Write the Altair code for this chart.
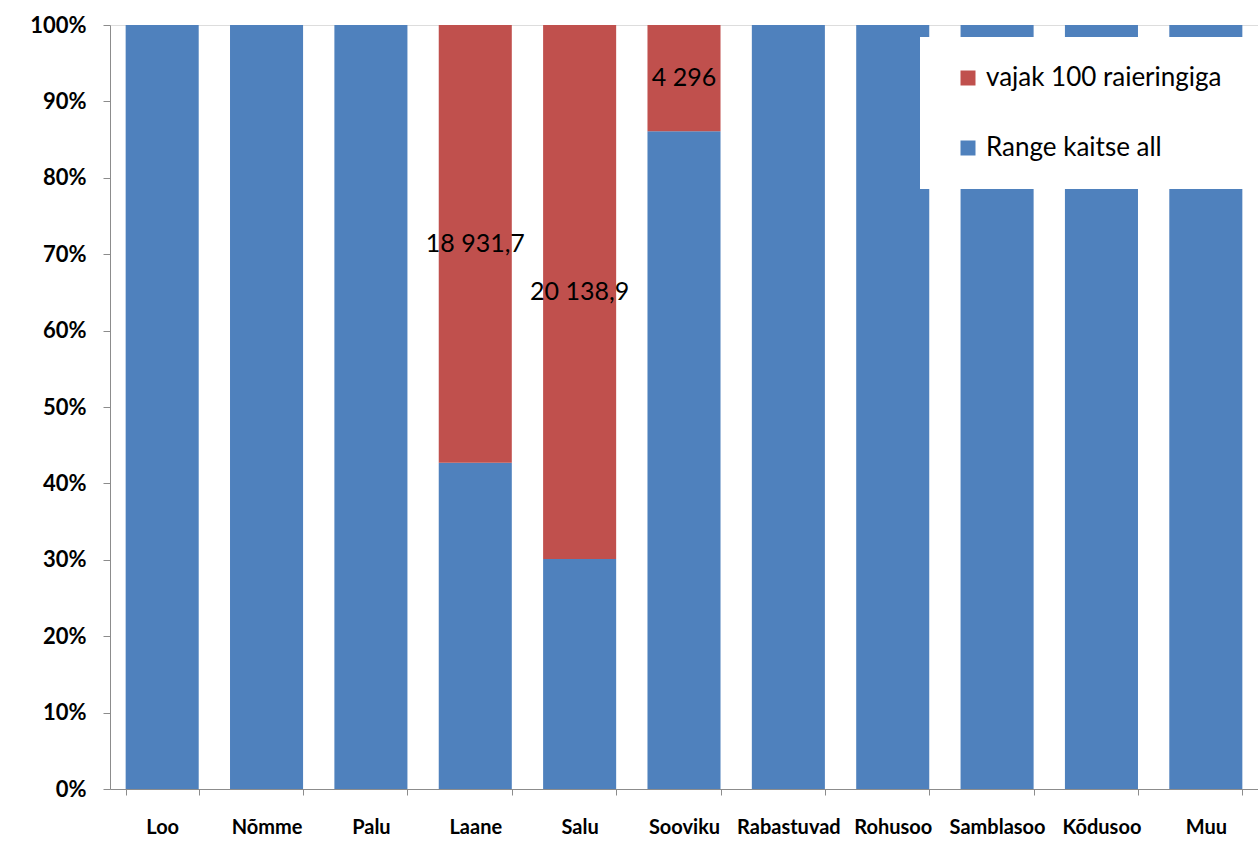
import altair as alt
import pandas as pd

categories = ["Loo", "Nõmme", "Palu", "Laane", "Salu", "Sooviku",
              "Rabastuvad", "Rohusoo", "Samblasoo", "Kõdusoo", "Muu"]
# shares in percent
range_kaitse = [100, 100, 100, 42.7, 30.1, 86.1, 100, 100, 100, 100, 100]
vajak = [0, 0, 0, 57.3, 69.9, 13.9, 0, 0, 0, 0, 0]
vajak_labels = ["", "", "", "18 931,7", "20 138,9", "4 296", "", "", "", "", ""]

S_BLUE = "Range kaitse all"
S_RED = "vajak 100 raieringiga"

rows = []
for c, b, r, lab in zip(categories, range_kaitse, vajak, vajak_labels):
    rows.append({"cat": c, "series": S_BLUE, "val": b / 100, "ord": 0, "label": "", "mid": b / 200})
    rows.append({"cat": c, "series": S_RED, "val": r / 100, "ord": 1, "label": lab, "mid": (b + r / 2) / 100})
df = pd.DataFrame(rows)

FONT = "Lato"
AXIS_GREY = "#8c8c8c"

x_enc = alt.X("cat:N", sort=categories, title=None,
              scale=alt.Scale(paddingInner=0.3, paddingOuter=0.15),
              axis=alt.Axis(labelAngle=0, labelFont=FONT, labelFontWeight="bold",
                            labelFontSize=20, labelColor="black", labelPadding=22,
                            tickBand="extent", tickSize=6, tickColor=AXIS_GREY,
                            domainColor=AXIS_GREY, grid=False))

bars = alt.Chart(df).mark_bar().encode(
    x=x_enc,
    y=alt.Y("val:Q", stack="zero", title=None,
            scale=alt.Scale(domain=[0, 1], nice=False),
            axis=alt.Axis(format=".0%", values=[i / 10 for i in range(11)],
                          labelFont=FONT, labelFontWeight="bold", labelFontSize=22,
                          labelColor="black", labelPadding=17, tickSize=7,
                          tickColor=AXIS_GREY, domainColor=AXIS_GREY, grid=False)),
    color=alt.Color("series:N", title=None,
                    scale=alt.Scale(domain=[S_RED, S_BLUE], range=["#C0504D", "#4F81BD"]),
                    legend=alt.Legend(orient="none", legendX=810, legendY=12,
                                      fillColor="white", padding=28,
                                      symbolType="square", symbolSize=225,
                                      symbolStrokeWidth=0, symbolOffset=7,
                                      labelFont=FONT, labelFontSize=26, labelColor="black",
                                      rowPadding=44, labelLimit=400,
                                      labelOffset=5)),
    order=alt.Order("ord:Q"),
)

texts = alt.Chart(df).transform_filter(alt.datum.label != "").mark_text(
    font=FONT, fontSize=25, color="black", baseline="middle", align="center"
).encode(
    x=alt.X("cat:N", sort=categories),
    y=alt.Y("mid:Q"),
    text="label:N",
)

chart = alt.layer(bars, texts).properties(
    width=1148, height=764,
    autosize=alt.AutoSizeParams(type="none"),
    padding={"left": 110, "top": 25, "right": 0, "bottom": 59},
).configure_view(stroke=None).configure(background="white")

chart.save("out.html", embed_options={"renderer": "svg", "actions": False})
